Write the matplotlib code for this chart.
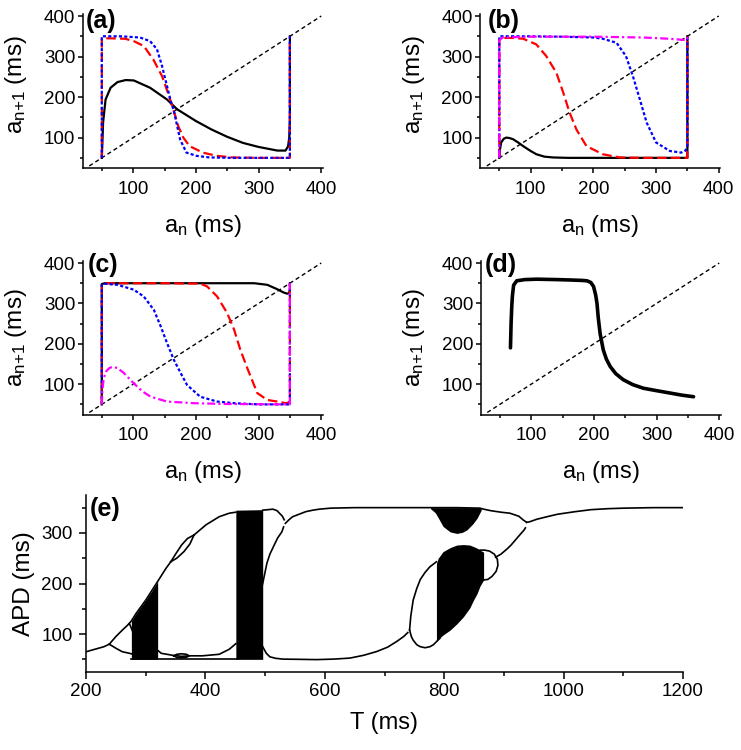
import matplotlib
matplotlib.use("Agg")
import matplotlib.pyplot as plt
from matplotlib.ticker import MultipleLocator

plt.rcParams['font.family'] = ['Liberation Sans', 'DejaVu Sans']
plt.rcParams['mathtext.fontset'] = 'custom'
plt.rcParams['mathtext.rm'] = 'Liberation Sans'

# ---------------- data: return maps ----------------
diag = [30, 400]

# panel (a)
a_black_x = [50, 51, 52, 56, 64, 75, 88, 101, 127, 154, 170, 200, 225, 250, 275, 300, 330, 343, 347, 349, 350, 350]
a_black_y = [50, 90, 137, 194, 223, 237, 242, 241, 223, 194, 170, 141, 120, 102, 87, 77, 68, 68, 78, 100, 150, 350]
a_red_x = [50, 50, 55, 62, 87, 101, 117, 132, 146, 156, 165, 172, 180, 190, 211, 233, 259, 300, 350, 350]
a_red_y = [50, 345, 345, 345, 344, 338, 326, 293, 252, 208, 165, 128, 100, 79, 63, 55, 51, 50, 50, 350]
a_blue_x = [50, 50, 55, 80, 111, 127, 138, 146, 154, 160, 165, 170, 175, 185, 201, 222, 260, 350, 350]
a_blue_y = [50, 350, 350, 350, 347, 338, 318, 277, 227, 190, 165, 130, 95, 63, 55, 51, 50, 50, 350]

# panel (b)
b_black_x = [50, 51, 53, 57, 61, 66, 72, 80, 88, 100, 109, 122, 136, 160, 350, 350]
b_black_y = [50, 70, 88, 97, 100, 99, 96, 88, 79, 67, 59, 53, 51, 50, 50, 350]
b_red_x = [50, 50, 55, 70, 88, 109, 125, 141, 152, 162, 173, 189, 215, 242, 280, 350, 350]
b_red_y = [50, 343, 346, 346, 344, 330, 301, 260, 211, 162, 120, 79, 59, 51, 50, 50, 350]
b_blue_x = [50, 50, 55, 100, 150, 200, 215, 237, 252, 263, 274, 285, 300, 322, 340, 347, 350, 350]
b_blue_y = [50, 350, 350, 350, 349, 347, 344, 334, 301, 252, 195, 137, 88, 67, 63, 68, 80, 350]
b_mag_x = [50, 50, 55, 100, 200, 280, 320, 345, 350, 350]
b_mag_y = [50, 340, 347, 349, 349, 347, 344, 341, 342, 350]

# panel (c)
c_black_x = [50, 50, 55, 150, 250, 293, 314, 330, 340, 346, 349, 350, 350]
c_black_y = [50, 348, 350, 350, 350, 350, 346, 335, 327, 324, 326, 335, 350]
c_red_x = [50, 50, 55, 150, 207, 218, 234, 250, 261, 271, 283, 298, 314, 330, 344, 350, 350]
c_red_y = [50, 348, 350, 350, 349, 342, 317, 276, 235, 185, 136, 78, 61, 57, 53, 56, 350]
c_blue_x = [50, 50, 53, 75, 101, 117, 133, 144, 154, 165, 176, 186, 207, 234, 261, 300, 350, 350]
c_blue_y = [50, 347, 349, 346, 334, 317, 284, 243, 202, 160, 127, 98, 69, 57, 53, 50, 50, 350]
c_mag_x = [50, 51, 53, 57, 62, 67, 75, 85, 101, 115, 128, 154, 197, 250, 350, 350]
c_mag_y = [50, 85, 115, 132, 140, 143, 140, 128, 102, 82, 69, 57, 53, 51, 50, 350]

# panel (d)
d_x = [67, 67.5, 68, 69, 70, 72, 77, 90, 109, 140, 162, 180, 189, 195, 199.5, 203, 205, 207, 210,
       215, 220, 226, 235, 247, 262, 279, 300, 322, 340, 359]
d_y = [190, 220, 251, 290, 317, 345, 356, 359, 360, 359, 358, 357, 356, 352, 342, 320, 300, 265, 225,
       185, 162, 144, 126, 111, 99, 90, 84, 78, 73, 69]

# ---------------- data: bifurcation diagram (e) ----------------
e_left_T = [200, 215, 230, 239]
e_left_A = [65, 70, 75, 80]
e_up1_T = [239, 250, 261, 270, 276, 284, 300, 320, 334, 342]
e_up1_A = [80, 95, 108, 118, 126, 141, 167, 204, 230, 243]
e_bub1_top_T = [342, 350, 360, 370, 381]
e_bub1_top_A = [243, 258, 276, 289, 296]
e_bub1_bot_T = [342, 352, 364, 374, 381]
e_bub1_bot_A = [243, 250, 263, 278, 296]
e_up2_T = [381, 401, 423, 440, 451]
e_up2_A = [296, 316, 332, 339, 341]
e_lo1_T = [239, 250, 261, 273, 284]
e_lo1_A = [80, 72, 65, 62, 58]
e_loop_T = [273, 280, 282, 280]
e_loop_A = [120, 100, 75, 58]
e_base_T = [276, 455]
e_base_A = [50, 50]
e_lo2_T = [320, 326, 345, 360, 375, 395, 423, 440, 451]
e_lo2_A = [68, 62, 58, 56, 57, 57, 60, 70, 81]
e_bub0_T = [347, 352, 360, 368, 373, 368, 360, 352, 347]
e_bub0_A = [57, 60, 61, 60, 57, 54, 53, 54, 57]
e_up3_T = [496, 505, 513, 520, 524, 529, 532]
e_up3_A = [345, 346, 347, 344, 339, 333, 326]
e_top_T = [534, 540, 546, 557, 568, 580, 591, 610, 650, 700, 780, 820, 860, 866, 878, 895, 910, 925, 932, 938]
e_top_A = [319, 326, 332, 337, 342, 345, 347, 349, 350, 350, 350, 350, 349, 347, 344, 341, 339, 333, 326, 321]
e_desc_T = [488, 496, 503, 508, 514, 521, 528, 531]
e_desc_A = [161, 200, 240, 258, 273, 290, 302, 312]
e_lo3_T = [496, 502, 508, 518, 530, 560, 586, 615, 642, 665, 687, 705, 720, 732, 739]
e_lo3_A = [75, 62, 55, 52, 50.5, 50, 49.5, 50.5, 52.5, 58, 65.5, 74, 85, 95, 103]
e_ell_top_T = [742, 744, 748, 754, 760, 768, 776, 787]
e_ell_top_A = [108, 135, 167, 190, 208, 222, 233, 243]
e_ell_bot_T = [742, 745, 748, 754, 760, 768, 776, 782, 787, 793]
e_ell_bot_A = [108, 95, 88, 79, 75, 73, 75, 79, 85, 92]
e_bub2_T = [860, 868, 876, 884, 889, 890, 887, 880, 873, 866]
e_bub2_A = [266, 266, 264, 258, 248, 236, 224, 214, 208, 207]
e_rise_T = [886, 895, 905, 912, 920, 928, 934, 936]
e_rise_A = [252, 258, 268, 276, 287, 298, 306, 310]
e_fin_T = [938, 943, 955, 972, 990, 1019, 1046, 1075, 1101, 1150, 1200]
e_fin_A = [321, 322, 327, 332, 337, 342, 346, 348, 349, 350, 350]

# chaotic bands (envelopes)
e_ch1_T = [276, 284, 300, 310, 320]
e_ch1_hi = [126, 141, 167, 185, 204]
e_ch1_lo = [50, 50, 50, 50, 50]
e_ch2_T = [451, 496]
e_ch2_hi = [345, 346]
e_ch2_lo = [50, 50]
e_ch3_T = [787, 790, 798, 810, 821, 832, 843, 849, 855, 860, 866]
e_ch3_hi = [240, 250, 263, 271, 276, 277, 276, 273, 270, 266, 262]
e_ch3_lo = [85, 90, 98, 108, 120, 134, 152, 167, 180, 195, 207]
e_ch4_T = [777, 785, 790, 798, 810, 821, 830, 838, 848, 855, 862]
e_ch4_hi = [350, 350, 350, 350, 350, 350, 350, 350, 350, 350, 350]
e_ch4_lo = [348, 340, 330, 313, 302, 299, 301, 306, 318, 329, 345]

# ---------------- figure ----------------
W, H = 741, 750
fig = plt.figure(figsize=(W / 100, H / 100), dpi=100)


def add_ax(l, t, r, b):
    return fig.add_axes([l / W, 1 - b / H, (r - l) / W, (b - t) / H])


def style_small(ax, letter, lx, ly, ylab_y):
    ax.set_xlim(20, 402)
    ax.set_ylim(25, 405)
    for s in ['top', 'right']:
        ax.spines[s].set_visible(False)
    for s in ['left', 'bottom']:
        ax.spines[s].set_linewidth(1.1)
    ax.xaxis.set_minor_locator(MultipleLocator(50))
    ax.yaxis.set_minor_locator(MultipleLocator(50))
    ax.set_xticks([100, 200, 300, 400])
    ax.set_yticks([100, 200, 300, 400])
    ax.tick_params(which='major', direction='out', length=3.6, width=1.1, labelsize=13.5)
    ax.tick_params(which='minor', direction='out', length=2.2, width=1.1)
    ax.tick_params(axis='x', which='major', pad=5.5)
    ax.tick_params(axis='y', which='major', pad=2)
    ax.set_xlabel(r'$\mathregular{a_n}$ (ms)', fontsize=17)
    ax.set_ylabel(r'$\mathregular{a_{n{+}1}}$ (ms)', fontsize=17.5)
    ax.xaxis.set_label_coords(0.5, -0.29)
    ax.yaxis.set_label_coords(-0.225, ylab_y)
    ax.text(lx, ly, letter, transform=ax.transAxes, fontsize=18, fontweight='bold',
            ha='left', va='top')
    ax.plot(diag, diag, color='black', lw=1.0, dashes=(3, 2.2), zorder=1)


RED = '#ff0000'
BLUE = '#0000ff'
MAG = '#ff00ff'
red_d = (4.3, 1.9)
blue_d = (1.4, 1.0)
mag_d = (3.6, 1.4, 1.0, 1.4)

# (a)
axA = add_ax(83, 14, 322.5, 168)
style_small(axA, '(a)', 0.012, 1.03, 0.54)
axA.plot(a_black_x, a_black_y, color='black', lw=1.6, zorder=3)
axA.plot(a_red_x, a_red_y, color=RED, lw=1.6, dashes=red_d, zorder=4)
axA.plot(a_blue_x, a_blue_y, color=BLUE, lw=1.6, dashes=blue_d, zorder=5)

# (b)
axB = add_ax(480.5, 14, 720, 168)
style_small(axB, '(b)', 0.03, 1.03, 0.54)
axB.plot(b_black_x, b_black_y, color='black', lw=1.6, zorder=3)
axB.plot(b_red_x, b_red_y, color=RED, lw=1.6, dashes=red_d, zorder=4)
axB.plot(b_blue_x, b_blue_y, color=BLUE, lw=1.6, dashes=blue_d, zorder=5)
axB.plot(b_mag_x, b_mag_y, color=MAG, lw=1.6, dashes=mag_d, zorder=6)

# (c)
axC = add_ax(83, 261, 322.5, 414.5)
style_small(axC, '(c)', 0.02, 1.05, 0.5)
axC.plot(c_black_x, c_black_y, color='black', lw=1.6, zorder=3)
axC.plot(c_red_x, c_red_y, color=RED, lw=1.6, dashes=red_d, zorder=4)
axC.plot(c_blue_x, c_blue_y, color=BLUE, lw=1.6, dashes=blue_d, zorder=5)
axC.plot(c_mag_x, c_mag_y, color=MAG, lw=1.6, dashes=mag_d, zorder=6)

# (d)
axD = add_ax(481, 261, 720.5, 414.5)
style_small(axD, '(d)', 0.017, 1.055, 0.5)
axD.plot(d_x, d_y, color='black', lw=2.6, zorder=3, solid_capstyle='round')

# (e)
axE = add_ax(86, 495, 683, 672)
axE.set_xlim(200, 1200)
axE.set_ylim(25, 375)
for s in ['top', 'right']:
    axE.spines[s].set_visible(False)
for s in ['left', 'bottom']:
    axE.spines[s].set_linewidth(1.1)
axE.set_xticks([200, 400, 600, 800, 1000, 1200])
axE.xaxis.set_minor_locator(MultipleLocator(100))
axE.set_yticks([100, 200, 300])
axE.yaxis.set_minor_locator(MultipleLocator(50))
axE.tick_params(which='major', direction='out', length=5, width=1.1, labelsize=13.5)
axE.tick_params(which='minor', direction='out', length=2.9, width=1.1)
axE.tick_params(axis='x', which='major', pad=3)
axE.tick_params(axis='y', which='major', pad=4.5)
axE.set_xlabel('T (ms)', fontsize=17)
axE.set_ylabel('APD (ms)', fontsize=17.5)
axE.xaxis.set_label_coords(0.5, -0.225)
axE.yaxis.set_label_coords(-0.085, 0.5)
axE.text(0.007, 0.99, '(e)', transform=axE.transAxes, fontsize=18, fontweight='bold',
         ha='left', va='top')

for T, lo, hi in [(e_ch1_T, e_ch1_lo, e_ch1_hi), (e_ch2_T, e_ch2_lo, e_ch2_hi),
                  (e_ch3_T, e_ch3_lo, e_ch3_hi), (e_ch4_T, e_ch4_lo, e_ch4_hi)]:
    axE.fill_between(T, lo, hi, color='black', lw=0, zorder=2)

lines_e = [(e_left_T, e_left_A), (e_up1_T, e_up1_A), (e_bub1_top_T, e_bub1_top_A),
           (e_bub1_bot_T, e_bub1_bot_A), (e_up2_T, e_up2_A), (e_lo1_T, e_lo1_A),
           (e_loop_T, e_loop_A), (e_base_T, e_base_A), (e_lo2_T, e_lo2_A),
           (e_bub0_T, e_bub0_A), (e_up3_T, e_up3_A), (e_top_T, e_top_A),
           (e_desc_T, e_desc_A), (e_lo3_T, e_lo3_A), (e_ell_top_T, e_ell_top_A),
           (e_ell_bot_T, e_ell_bot_A), (e_bub2_T, e_bub2_A), (e_rise_T, e_rise_A),
           (e_fin_T, e_fin_A)]
for T, A in lines_e:
    axE.plot(T, A, color='black', lw=1.2, zorder=3)

fig.savefig('out.png', dpi=100)
